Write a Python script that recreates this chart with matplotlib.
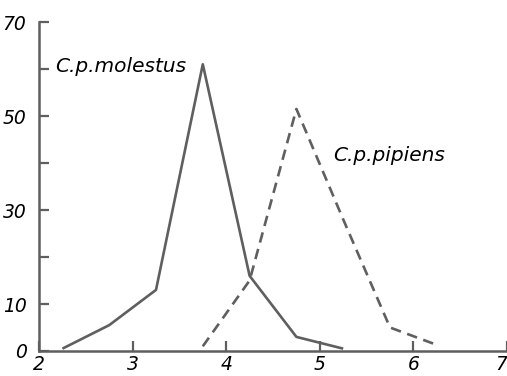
import matplotlib
matplotlib.use("Agg")
import matplotlib.pyplot as plt

# Данные
molestus_x = [2.25, 2.75, 3.25, 3.75, 4.25, 4.75, 5.25]
molestus_y = [0.5, 5.5, 13, 61, 16, 3, 0.5]

pipiens_x = [3.75, 4.25, 4.75, 5.25, 5.75, 6.25]
pipiens_y = [1, 15, 51.5, 28, 5, 1.3]

x_ticks = [2, 3, 4, 5, 6, 7]
y_ticks = [0, 10, 20, 30, 40, 50, 60, 70]
y_labels = ['0', '10', '', '30', '', '50', '', '70']

grey = '#5f5f5f'

fig = plt.figure(figsize=(5.07, 3.76), dpi=100)
ax = fig.add_axes([39 / 507, 25 / 376, 1 - 39 / 507, (351 - 22) / 376])

ax.plot(molestus_x, molestus_y, color=grey, lw=1.9, solid_capstyle='butt')
ax.plot(pipiens_x, pipiens_y, color=grey, lw=1.9, linestyle=(0, (4, 2.5)))

ax.text(2.17, 60.5, 'C.p.molestus', fontsize=14.5, style='italic', color='black',
        ha='left', va='center')
ax.text(5.14, 41.5, 'C.p.pipiens', fontsize=14.5, style='italic', color='black',
        ha='left', va='center')

ax.set_xlim(2, 7)
ax.set_ylim(0, 70)
ax.set_xticks(x_ticks)
ax.set_xticklabels([str(t) for t in x_ticks], fontsize=13.5, style='italic')
ax.set_yticks(y_ticks)
ax.set_yticklabels(y_labels, fontsize=13.5, style='italic')
# последняя подпись у самого края
ax.get_xticklabels()[-1].set_horizontalalignment('right')

ax.tick_params(axis='both', direction='in', length=7, width=1.6, color=grey)
ax.tick_params(axis='y', pad=9)
ax.tick_params(axis='x', pad=3)

for s in ['top', 'right']:
    ax.spines[s].set_visible(False)
for s in ['left', 'bottom']:
    ax.spines[s].set_color(grey)
    ax.spines[s].set_linewidth(1.8)

fig.savefig('out.png', dpi=100)
